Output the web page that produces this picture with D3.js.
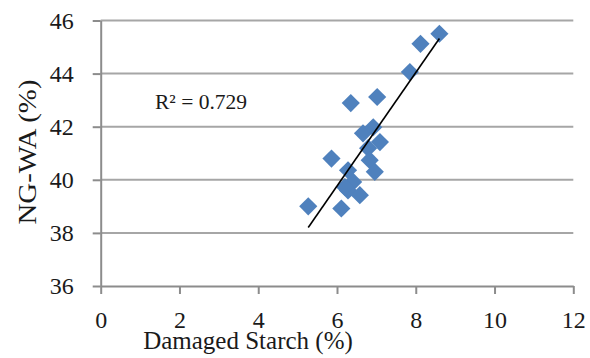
<!DOCTYPE html>
<html><head><meta charset="utf-8">
<script src="https://cdn.jsdelivr.net/npm/d3@7/dist/d3.min.js"></script>
<style>body{margin:0;background:#fff}svg{display:block}
svg text{font-family:"Liberation Serif","Tinos","Times New Roman",serif}</style>
</head><body>
<script>
const damagedStarch = [5.27, 6.11, 5.86, 6.28, 6.41, 6.28, 6.58, 6.35, 7.02, 6.66, 6.92, 7.09, 6.79, 6.83, 6.96, 7.85, 8.12, 8.6, 6.2];
const ngwa = [39.0, 38.92, 40.8, 40.36, 39.92, 39.6, 39.42, 42.89, 43.12, 41.75, 41.98, 41.42, 41.19, 40.74, 40.3, 44.06, 45.12, 45.5, 39.73];
const xTicks = [0, 2, 4, 6, 8, 10, 12];
const yTicks = [36, 38, 40, 42, 44, 46];
const r2Label = "R\u00b2 = 0.729";
const xTitle = "Damaged Starch (%)";
const yTitle = "NG-WA (%)";

const W = 590, H = 358;
const svg = d3.select("body").append("svg").attr("width", W).attr("height", H);
const x = d3.scaleLinear().domain([0, 12]).range([100.7, 573.3]);
const y = d3.scaleLinear().domain([36, 46]).range([286, 20.5]);
const axisCol = "#8c8c8c", gridCol = "#a6a6a6", txtCol = "#1a1a1a";

// gridlines
svg.append("g").selectAll("line").data(yTicks.filter(d => d !== 36)).join("line")
  .attr("x1", x(0)).attr("x2", x(12)).attr("y1", d => y(d)).attr("y2", d => y(d))
  .attr("stroke", gridCol).attr("stroke-width", 2);

// y axis
const ya = svg.append("g").attr("transform", `translate(${x(0)},0)`)
  .call(d3.axisLeft(y).tickValues(yTicks).tickSize(8).tickSizeOuter(0).tickPadding(19));
ya.attr("font-family", null);
ya.select(".domain").attr("stroke", axisCol).attr("stroke-width", 2);
ya.selectAll(".tick line").attr("stroke", axisCol).attr("stroke-width", 2);
ya.selectAll(".tick text").attr("font-size", 24).attr("fill", txtCol);

// x axis
const xa = svg.append("g").attr("transform", `translate(0,${y(36)})`)
  .call(d3.axisBottom(x).tickValues(xTicks).tickSize(8).tickSizeOuter(0).tickPadding(17));
xa.attr("font-family", null);
xa.select(".domain").attr("stroke", axisCol).attr("stroke-width", 2);
xa.selectAll(".tick line").attr("stroke", axisCol).attr("stroke-width", 2);
xa.selectAll(".tick text").attr("font-size", 24).attr("fill", txtCol);

// points
const pts = damagedStarch.map((d, i) => ({x: d, y: ngwa[i]}));
const sym = d3.symbol().type(d3.symbolSquare).size(165);
svg.append("g").selectAll("path").data(pts).join("path")
  .attr("d", sym)
  .attr("transform", d => `translate(${x(d.x)},${y(d.y)}) rotate(45)`)
  .attr("fill", "#4f81bd");

// trendline (least squares)
const mx = d3.mean(damagedStarch), my = d3.mean(ngwa);
const sxy = d3.sum(pts, p => (p.x - mx) * (p.y - my));
const sxx = d3.sum(pts, p => (p.x - mx) ** 2);
const slope = sxy / sxx, icpt = my - slope * mx;
const [x0, x1] = d3.extent(damagedStarch);
svg.append("line")
  .attr("x1", x(x0)).attr("y1", y(slope * x0 + icpt))
  .attr("x2", x(x1)).attr("y2", y(slope * x1 + icpt))
  .attr("stroke", "#000").attr("stroke-width", 1.6);

// R2 label
svg.append("text").attr("x", 155).attr("y", 109)
  .attr("font-size", 21.5).attr("fill", txtCol).text(r2Label);

// axis titles
svg.append("text").attr("x", 248).attr("y", 349).attr("text-anchor", "middle")
  .attr("font-size", 25).attr("fill", txtCol).text(xTitle);
svg.append("text").attr("transform", "translate(36,152) rotate(-90)").attr("text-anchor", "middle")
  .attr("font-size", 25).attr("textLength", 145).attr("lengthAdjust", "spacingAndGlyphs")
  .attr("fill", txtCol).text(yTitle);
</script>
</body></html>
